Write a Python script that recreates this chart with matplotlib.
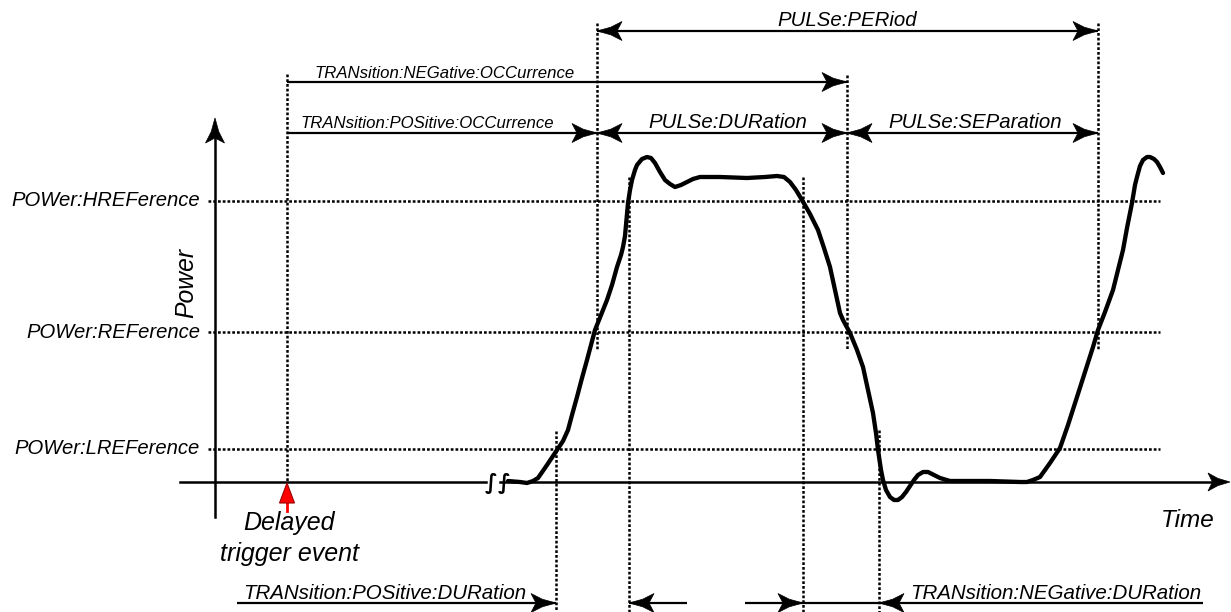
import matplotlib.pyplot as plt
from matplotlib.patches import Polygon
from matplotlib import font_manager

# screen units: x = time, y = power (grows downward like the drawing)
level_names = ['POWer:HREFerence', 'POWer:REFerence', 'POWer:LREFerence']
level_y = [201, 332, 449]
base_y = 482

# time markers
t_trigger = 287
t_rise_ref = 597
t_fall_ref = 847
t_next_ref = 1098
t_rise_low = 556
t_rise_high = 629
t_fall_high = 803
t_fall_low = 879

# pulse waveform
wave_t = [508, 520, 527, 533, 538, 547, 557, 563, 568, 572, 577, 582, 587, 591, 595, 601,
          607, 612, 617, 621, 623, 625, 626, 628, 630, 632, 635, 637, 642, 647, 651, 655,
          660, 665, 670, 675, 681, 687, 693, 700, 720, 747, 765, 777, 784, 790, 796, 802,
          810, 818, 824, 830, 835, 840, 843, 850, 857, 863, 868, 873, 876, 878, 881, 883,
          886, 890, 894, 898, 902, 906, 910, 914, 918, 923, 928, 934, 940, 950, 990, 1020,
          1027, 1033, 1040, 1050, 1060, 1068, 1077, 1085, 1093, 1098, 1105, 1113, 1118,
          1123, 1127, 1132, 1135, 1137, 1140, 1143, 1147, 1150, 1154, 1157, 1160, 1163]
wave_p = [481, 482, 483, 481, 478, 465, 450, 441, 430, 415, 397, 378, 360, 345, 330, 315,
          300, 285, 267, 255, 247, 236, 225, 203, 190, 180, 170, 165, 159, 157, 158, 163,
          172, 180, 184, 187, 185, 182, 179, 177, 177, 178, 177, 176, 177, 182, 190, 200,
          214, 230, 248, 267, 290, 313, 320, 333, 350, 367, 390, 413, 433, 450, 470, 480,
          490, 497, 500, 500, 497, 492, 486, 480, 475, 472, 472, 475, 478, 481, 481, 482,
          482, 480, 477, 463, 448, 425, 397, 372, 347, 330, 312, 290, 270, 250, 228, 203,
          185, 177, 166, 160, 157, 157, 159, 162, 167, 173]

names = {f.name for f in font_manager.fontManager.ttflist}
FONT = ['Liberation Sans', 'DejaVu Sans']
if 'Liberation Sans Narrow' in names:
    NARROW, narrow_size = ['Liberation Sans Narrow', 'DejaVu Sans'], 14.7
else:
    NARROW, narrow_size = FONT, 12.1

fig = plt.figure(figsize=(12.31, 6.12), dpi=100)
ax = fig.add_axes([0, 0, 1, 1])
ax.set_xlim(0, 1231)
ax.set_ylim(612, 0)
ax.axis('off')

dots = (0, (1.1, 0.8))
dot_lw = 1.8


def head(x, y, dx, dy, L=25, W=19, color='black'):
    # concave arrow head with its tip at (x, y)
    px, py = -dy, dx
    bx, by = x - dx * L, y - dy * L
    pts = [(x, y),
           (x - dx * L * 0.55 + px * W * 0.2, y - dy * L * 0.55 + py * W * 0.2),
           (bx + px * W / 2, by + py * W / 2),
           (x - dx * L * 0.8, y - dy * L * 0.8),
           (bx - px * W / 2, by - py * W / 2),
           (x - dx * L * 0.55 - px * W * 0.2, y - dy * L * 0.55 - py * W * 0.2)]
    ax.add_patch(Polygon(pts, closed=True, fc=color, ec=color, lw=0.5, zorder=4))


def dim(x0, x1, y, left=False, right=False):
    ax.plot([x0, x1], [y, y], color='black', lw=1.6, solid_capstyle='butt')
    if right:
        head(x1, y, 1, 0)
    if left:
        head(x0, y, -1, 0)


# axes
ax.plot([215, 215], [517, 135], color='black', lw=1.8)
head(215, 118, 0, -1)
ax.plot([180, 486], [base_y, base_y], color='black', lw=1.8)
ax.plot([500, 1212], [base_y, base_y], color='black', lw=1.8)
head(1230, base_y, 1, 0, L=22, W=18)
for bx in [491, 504]:
    ax.text(bx, base_y + 1, '\u222b', ha='center', va='center', fontsize=15,
            family='DejaVu Sans', fontweight='bold')

# reference levels
for name, y in zip(level_names, level_y):
    ax.plot([208, 1160], [y, y], color='black', lw=dot_lw, linestyle=dots)
    ax.text(200, y, name, ha='right', va='center', fontsize=14.6,
            family=FONT, style='italic')

# marker lines
ax.plot([t_trigger, t_trigger], [74, base_y], color='black', lw=dot_lw, linestyle=dots)
ax.plot([t_rise_ref, t_rise_ref], [23, 350], color='black', lw=dot_lw, linestyle=dots)
ax.plot([t_fall_ref, t_fall_ref], [75, 350], color='black', lw=dot_lw, linestyle=dots)
ax.plot([t_next_ref, t_next_ref], [23, 350], color='black', lw=dot_lw, linestyle=dots)
for t, top in [(t_rise_high, 177), (t_fall_high, 177), (t_rise_low, 431), (t_fall_low, 430)]:
    ax.plot([t, t], [top, 612], color='black', lw=dot_lw, linestyle=dots)

# waveform
ax.plot(wave_t, wave_p, color='black', lw=3.1, solid_joinstyle='round',
        solid_capstyle='round', zorder=3)

# top dimensions
dim(t_rise_ref, t_next_ref, 31, left=True, right=True)
ax.text((t_rise_ref + t_next_ref) / 2, 26, 'PULSe:PERiod', ha='center', va='baseline',
        fontsize=14.7, family=FONT, style='italic')
dim(t_trigger, t_fall_ref, 82, right=True)
ax.text(314, 78, 'TRANsition:NEGative:OCCurrence', ha='left', va='baseline',
        fontsize=narrow_size, family=NARROW, style='italic')
dim(t_trigger, t_rise_ref, 133, right=True)
ax.text(300, 128, 'TRANsition:POSitive:OCCurrence', ha='left', va='baseline',
        fontsize=narrow_size, family=NARROW, style='italic')
dim(t_rise_ref, t_fall_ref, 133, left=True, right=True)
ax.text(648, 128, 'PULSe:DURation', ha='left', va='baseline',
        fontsize=14.7, family=FONT, style='italic')
dim(t_fall_ref, t_next_ref, 133, left=True, right=True)
ax.text(888, 128, 'PULSe:SEParation', ha='left', va='baseline',
        fontsize=14.7, family=FONT, style='italic')

# bottom dimensions
bot_y = 603
dim(237, t_rise_low, bot_y, right=True)
ax.text(243, 599, 'TRANsition:POSitive:DURation', ha='left', va='baseline',
        fontsize=14.8, family=FONT, style='italic')
dim(t_rise_high, 687, bot_y, left=True)
dim(745, t_fall_high, bot_y, right=True)
dim(t_fall_high, t_fall_low, bot_y)
dim(t_fall_low, 1203, bot_y, left=True)
ax.text(910, 599, 'TRANsition:NEGative:DURation', ha='left', va='baseline',
        fontsize=14.8, family=FONT, style='italic')

# trigger marker
ax.plot([t_trigger, t_trigger], [500, 511], color='red', lw=2)
ax.add_patch(Polygon([(t_trigger, base_y + 1), (t_trigger - 7.5, 503), (t_trigger + 7.5, 503)],
                     closed=True, fc='red', ec='#990000', lw=0.8, zorder=5))
ax.text(t_trigger + 2, 530, 'Delayed', ha='center', va='baseline', fontsize=18,
        family=FONT, style='italic')
ax.text(t_trigger + 2, 561, 'trigger event', ha='center', va='baseline', fontsize=18,
        family=FONT, style='italic')

# axis names
ax.text(1215, 527, 'Time', ha='right', va='baseline', fontsize=17.5,
        family=FONT, style='italic')
ax.text(186, 283, 'Power', ha='center', va='center', rotation=90, fontsize=17.8,
        family=FONT, style='italic')

fig.savefig('out.png', dpi=100)
